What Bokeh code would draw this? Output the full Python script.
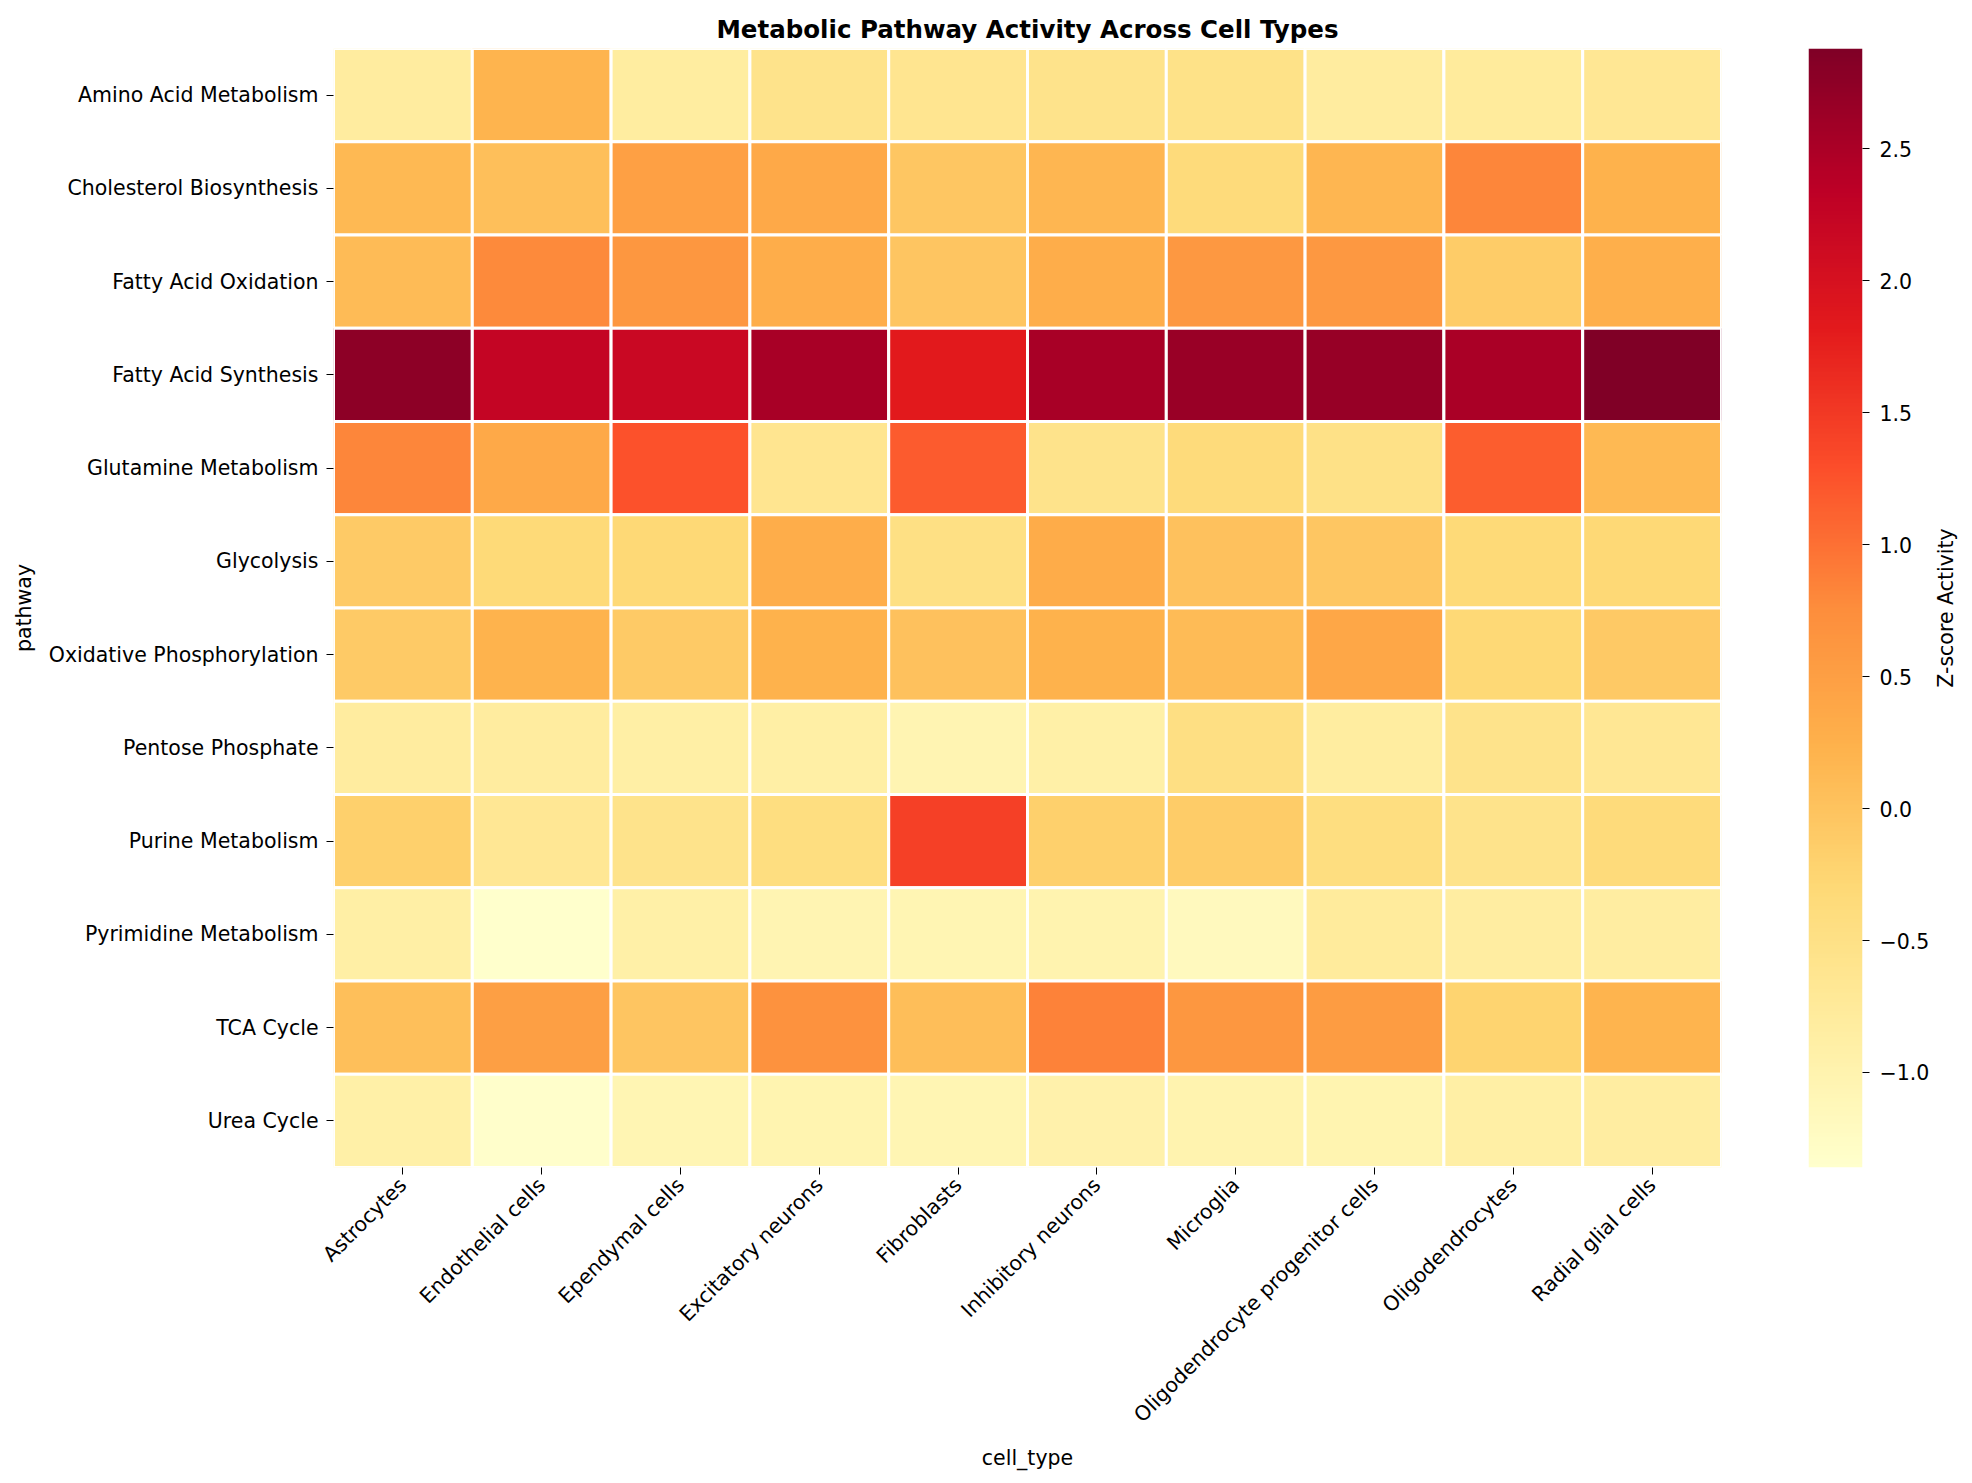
import math
import numpy as np
from bokeh.plotting import figure
from bokeh.layouts import row
from bokeh.models import (ColumnDataSource, LinearColorMapper, FixedTicker,
                          CustomJSTickFormatter, Range1d)
from bokeh.palettes import YlOrRd9
from bokeh.embed import file_html
from bokeh.resources import INLINE

# ---- data -------------------------------------------------------------
pathways = [
    "Amino Acid Metabolism", "Cholesterol Biosynthesis", "Fatty Acid Oxidation",
    "Fatty Acid Synthesis", "Glutamine Metabolism", "Glycolysis",
    "Oxidative Phosphorylation", "Pentose Phosphate", "Purine Metabolism",
    "Pyrimidine Metabolism", "TCA Cycle", "Urea Cycle",
]
cell_types = [
    "Astrocytes", "Endothelial cells", "Ependymal cells", "Excitatory neurons",
    "Fibroblasts", "Inhibitory neurons", "Microglia",
    "Oligodendrocyte progenitor cells", "Oligodendrocytes", "Radial glial cells",
]

# z-scored activity, one list per pathway (same order as cell_types)
amino_acid   = [-0.80, 0.20, -0.82, -0.55, -0.63, -0.55, -0.52, -0.80, -0.77, -0.67]
cholesterol  = [0.14, 0.05, 0.48, 0.35, -0.05, 0.18, -0.36, 0.17, 0.81, 0.24]
fa_oxidation = [0.10, 0.78, 0.62, 0.30, -0.02, 0.30, 0.60, 0.60, -0.13, 0.27]
fa_synthesis = [2.75, 2.24, 2.17, 2.53, 1.82, 2.52, 2.65, 2.67, 2.50, 2.88]
glutamine    = [0.81, 0.35, 1.27, -0.63, 1.19, -0.55, -0.35, -0.50, 1.17, 0.14]
glycolysis   = [-0.09, -0.32, -0.30, 0.30, -0.48, 0.32, 0.02, -0.05, -0.33, -0.30]
oxphos       = [-0.09, 0.22, -0.09, 0.23, 0.02, 0.23, 0.10, 0.38, -0.30, -0.08]
pentose      = [-0.80, -0.80, -0.88, -0.88, -1.03, -0.91, -0.46, -0.82, -0.55, -0.67]
purine       = [-0.17, -0.67, -0.56, -0.42, 1.43, -0.17, -0.12, -0.42, -0.55, -0.35]
pyrimidine   = [-0.88, -1.36, -0.91, -1.03, -1.05, -1.00, -1.18, -0.77, -0.84, -0.84]
tca_cycle    = [0.05, 0.50, -0.02, 0.69, 0.08, 0.85, 0.62, 0.55, -0.22, 0.20]
urea_cycle   = [-0.91, -1.34, -1.05, -1.02, -1.06, -0.95, -1.00, -1.02, -0.89, -0.84]

colorbar_ticks = [-1.0, -0.5, 0.0, 0.5, 1.0, 1.5, 2.0, 2.5]

rows = [amino_acid, cholesterol, fa_oxidation, fa_synthesis, glutamine, glycolysis,
        oxphos, pentose, purine, pyrimidine, tca_cycle, urea_cycle]

# ---- colour map: continuous YlOrRd ------------------------------------
def ramp(colors, n=256):
    rgb = np.array([[int(c[i:i + 2], 16) for i in (1, 3, 5)] for c in colors], float)
    pos = np.linspace(0, 1, len(colors))
    t = np.linspace(0, 1, n)
    out = np.stack([np.interp(t, pos, rgb[:, k]) for k in range(3)], axis=1)
    return ["#%02x%02x%02x" % tuple(int(round(v)) for v in c) for c in out]

palette = ramp(list(reversed(YlOrRd9)))

xs, ys, vals = [], [], []
for pw, vals_row in zip(pathways, rows):
    for ct, v in zip(cell_types, vals_row):
        xs.append(ct)
        ys.append(pw)
        vals.append(v)
src = ColumnDataSource(dict(cell=xs, pathway=ys, value=vals))

vmin, vmax = min(vals), max(vals)
mapper = LinearColorMapper(palette=palette, low=vmin, high=vmax)

FONT = "DejaVu Sans"
TOP, BOTTOM = 48, 316

# ---- heatmap ------------------------------------------------------------
p = figure(
    x_range=cell_types, y_range=list(reversed(pathways)),
    width=1760, height=1483, output_backend="svg", toolbar_location=None,
    min_border_left=333, min_border_right=39, min_border_top=TOP, min_border_bottom=BOTTOM,
    title="Metabolic Pathway Activity Across Cell Types",
)
p.title.align = "center"
p.title.text_font = FONT
p.title.text_font_size = "24.5px"
p.title.text_font_style = "bold"
p.title.text_color = "black"

p.rect(x="cell", y="pathway", width=1, height=1, source=src,
       fill_color={"field": "value", "transform": mapper},
       line_color="white", line_width=3)

p.outline_line_color = None
p.grid.grid_line_color = None
p.axis.axis_line_color = None
p.axis.major_tick_out = 7
p.axis.major_tick_in = 0
p.axis.major_tick_line_color = "black"
p.axis.major_label_text_font = FONT
p.axis.major_label_text_font_size = "20.5px"
p.axis.major_label_text_color = "black"
p.axis.axis_label_text_font = FONT
p.axis.axis_label_text_font_size = "20.5px"
p.axis.axis_label_text_font_style = "normal"
p.axis.axis_label_text_color = "black"

p.xaxis.axis_label = "cell_type"
p.yaxis.axis_label = "pathway"
p.xaxis.major_label_orientation = math.pi / 4
p.xaxis.major_label_standoff = 7
p.xaxis.axis_label_standoff = 8
p.yaxis.major_label_standoff = 8
p.yaxis.axis_label_standoff = 10

# ---- colour bar ---------------------------------------------------------
minus_fmt = CustomJSTickFormatter(
    code="return (tick < 0 ? '\u2212' : '') + Math.abs(tick).toFixed(1);")

cb = figure(
    width=172, height=1483, x_range=Range1d(0, 1), y_range=Range1d(vmin, vmax),
    output_backend="svg", toolbar_location=None, y_axis_location="right",
    min_border_left=48, min_border_right=68, min_border_top=TOP, min_border_bottom=BOTTOM,
)
gradient = np.linspace(vmin, vmax, 512).reshape(-1, 1)
cb.image(image=[gradient], x=0, y=vmin, dw=1, dh=vmax - vmin, color_mapper=mapper)
cb.xaxis.visible = False
cb.grid.grid_line_color = None
cb.outline_line_color = None
cb.yaxis.ticker = FixedTicker(ticks=colorbar_ticks)
cb.yaxis.formatter = minus_fmt
cb.yaxis.axis_line_color = None
cb.yaxis.major_tick_out = 7
cb.yaxis.major_tick_in = 0
cb.yaxis.minor_tick_line_color = None
cb.yaxis.major_tick_line_color = "black"
cb.yaxis.major_label_standoff = 10
cb.yaxis.major_label_text_font = FONT
cb.yaxis.major_label_text_font_size = "20.5px"
cb.yaxis.major_label_text_color = "black"

# ---- colour bar caption, centred on the bar, reading bottom to top ------
lab = figure(
    width=40, height=1483, x_range=Range1d(0, 40), y_range=Range1d(vmin, vmax),
    output_backend="svg", toolbar_location=None,
    x_axis_type=None, y_axis_type=None,
    min_border_left=0, min_border_right=0, min_border_top=TOP, min_border_bottom=BOTTOM,
)
lab.outline_line_color = None
lab.grid.grid_line_color = None
lab.text(x=[13], y=[(vmin + vmax) / 2], text=["Z-score Activity"], angle=math.pi / 2,
         text_align="center", text_baseline="middle",
         text_font={"value": FONT}, text_font_size="20.5px", text_color="black")

layout = row(p, cb, lab)
open("out.html", "w").write(file_html(layout, INLINE))
